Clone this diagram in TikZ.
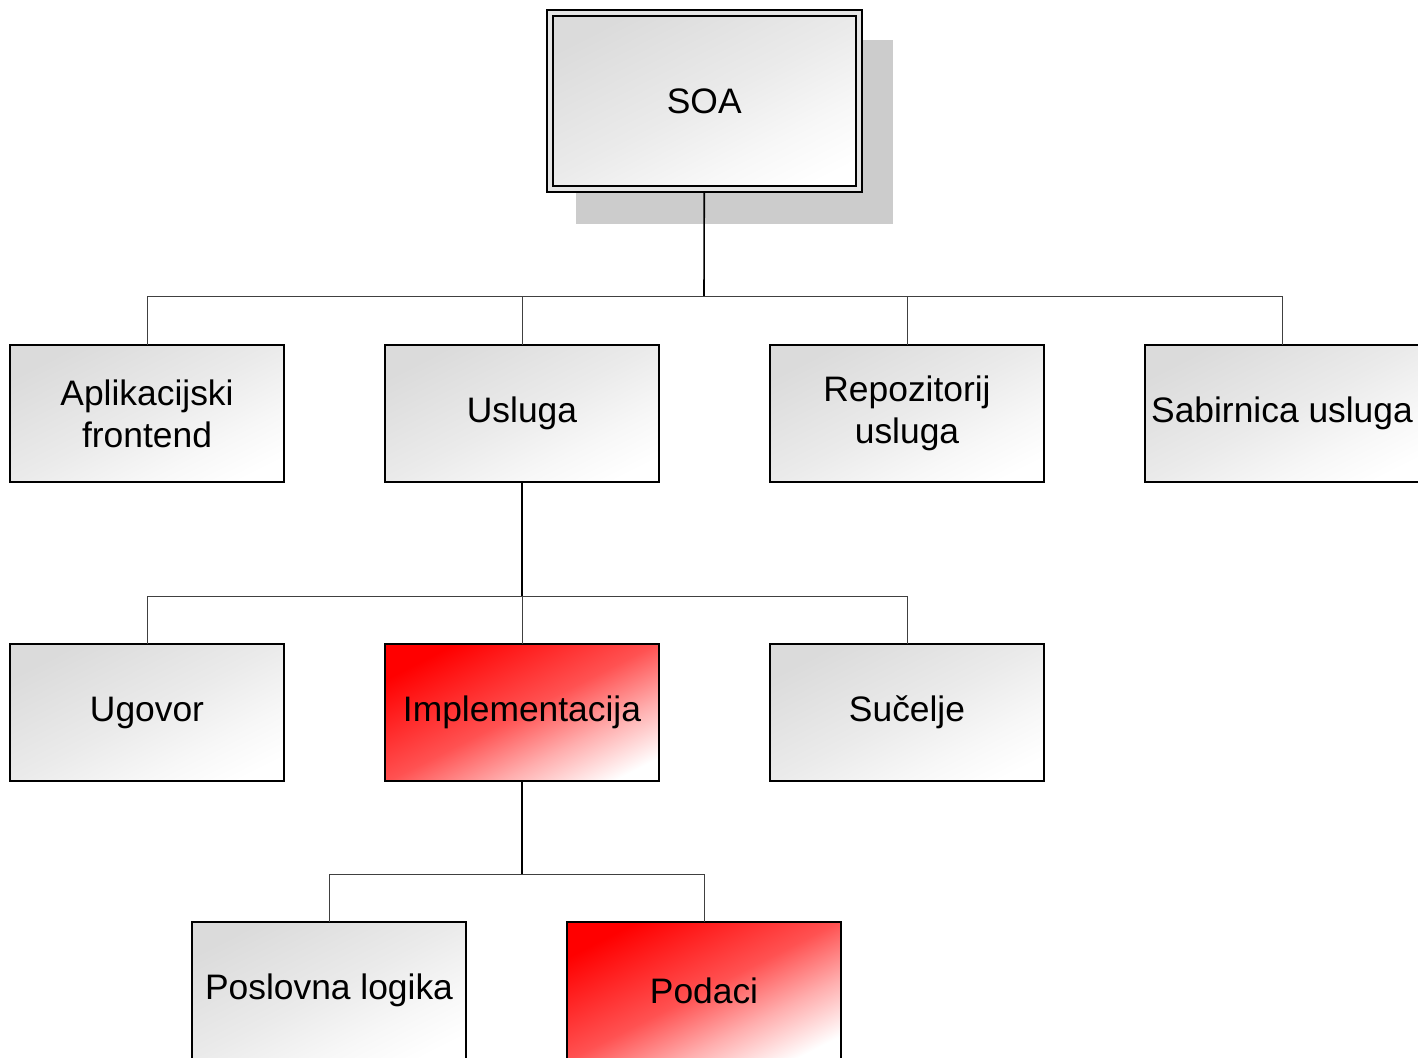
\documentclass[tikz,border=0pt]{standalone}
\usepackage{fontspec}
\setmainfont{Liberation Sans}
% diagonal fills: full tone at the upper left, fading to white at the lower right
\pgfdeclarehorizontalshading{greyfade}{100bp}{color(0bp)=(black!15); color(25bp)=(black!14);
  color(50bp)=(black!8); color(66bp)=(black!3); color(78bp)=(white); color(100bp)=(white)}
\pgfdeclarehorizontalshading{redfade}{100bp}{color(0bp)=(red); color(25bp)=(red);
  color(50bp)=(red!68!white); color(64bp)=(red!32!white); color(78bp)=(white);
  color(100bp)=(white)}
\begin{document}
\begin{tikzpicture}[x=0.5pt,y=-0.5pt,
  every node/.style={inner sep=0pt, outer sep=0pt},
  card/.style={rectangle, draw=black, line width=1pt,
    minimum width=137pt, minimum height=68.5pt, align=center,
    font=\fontsize{17.7}{21}\selectfont},
  plain/.style={card, shading=greyfade, shading angle=-63},
  hot/.style={card, shading=redfade, shading angle=-63},
  stem/.style={line width=0.8pt, black},
  branch/.style={line width=0.5pt, black!75}]
\useasboundingbox (0,0) rectangle (1418,1057);
\clip (0,0) rectangle (1418,1057);

% root with its drop shadow
\fill[black!20] (576,40) rectangle (893,224);
\node[plain, double=black!10, double distance=2pt, outer sep=2pt,
  minimum width=154.25pt, minimum height=88pt] (soa) at (704.25,101) {SOA};

% first level
\node[plain] (app) at (147,413.5) {Aplikacijski\\frontend};
\node[plain] (usl) at (522,413.5) {Usluga};
\node[plain] (rep) at (907,413.5) {Repozitorij\\usluga};
\node[plain] (sab) at (1282,413.5) {Sabirnica usluga};

% second level
\node[plain] (ugo) at (147,712.5) {Ugovor};
\node[hot]   (imp) at (522,712.5) {Implementacija};
\node[plain] (suc) at (907,712.5) {Sučelje};

% third level
\node[plain] (pos) at (329,990.5) {Poslovna logika};
\node[hot]   (pod) at (704,990.5) {Podaci};

% connectors
\coordinate (b1) at (704,296);
\coordinate (b2) at (522,596);
\coordinate (b3) at (522,874);
\draw[stem] (soa.south) -- (b1);
\foreach \n in {app,usl,rep,sab} \draw[branch] (b1) -| (\n.north);
\draw[stem] (usl.south) -- (b2);
\foreach \n in {ugo,imp,suc} \draw[branch] (b2) -| (\n.north);
\draw[stem] (imp.south) -- (b3);
\foreach \n in {pos,pod} \draw[branch] (b3) -| (\n.north);
\end{tikzpicture}
\end{document}
